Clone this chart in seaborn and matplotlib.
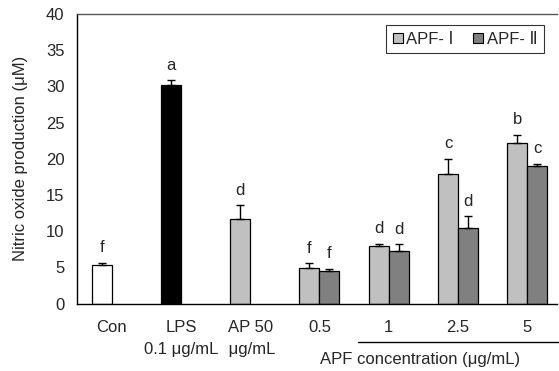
import matplotlib
matplotlib.use("Agg")
import matplotlib.pyplot as plt
import seaborn as sns
import pandas as pd
import numpy as np
from matplotlib.patches import Patch
from matplotlib.lines import Line2D
import matplotlib.transforms as mtrans

groups = ["Con", "LPS\n0.1 μg/mL", "AP 50\n μg/mL", "0.5", "1", "2.5", "5"]
series = ["APF-Ⅰ", "APF-Ⅱ"]
# value, error, letter for left-position bars (APF-I slot; first three are single bars)
vals_1 = [5.4, 30.2, 11.7, 4.9, 7.95, 17.95, 22.2]
errs_1 = [0.25, 0.65, 1.9, 0.7, 0.35, 2.05, 1.15]
letters_1 = ["f", "a", "d", "f", "d", "c", "b"]
# right-position bars (APF-II)
groups_2 = ["0.5", "1", "2.5", "5"]
vals_2 = [4.45, 7.3, 10.45, 19.05]
errs_2 = [0.4, 0.9, 1.6, 0.3]
letters_2 = ["f", "d", "d", "c"]
legend_labels = ["APF- Ⅰ", "APF- Ⅱ"]

single_colors = {"Con": "white", "LPS\n0.1 μg/mL": "black"}
c1, c2 = "#C0C0C0", "#808080"

df = pd.DataFrame({
    "group": groups + groups_2,
    "series": [series[0]] * len(groups) + [series[1]] * len(groups_2),
    "value": vals_1 + vals_2,
})

sns.set_style("white")
plt.rcParams["font.family"] = ["Liberation Sans", "DejaVu Sans"]
plt.rcParams["font.size"] = 12

FS = 12
fig = plt.figure(figsize=(5.59, 3.71), dpi=100)
ax = fig.add_axes([77 / 559, 1 - 303.7 / 371, 480 / 559, (303.7 - 14) / 371])

width = 0.577
sns.barplot(data=df, x="group", y="value", hue="series", order=groups,
            hue_order=series, palette={series[0]: c1, series[1]: c2},
            width=width, dodge=True, errorbar=None, legend=False,
            edgecolor="black", linewidth=0.9, ax=ax, saturation=1)

off = width / 4
# recolor single bars
for p in ax.patches:
    cx = p.get_x() + p.get_width() / 2
    idx = int(round(cx + off))
    if p.get_facecolor()[:3] == matplotlib.colors.to_rgb(c1) and groups[idx] in single_colors:
        p.set_facecolor(single_colors[groups[idx]])

x1 = np.arange(len(groups)) - off
x2 = np.array([groups.index(g) for g in groups_2]) + off
for xs, vs, es, ls in [(x1, vals_1, errs_1, letters_1), (x2, vals_2, errs_2, letters_2)]:
    vs = np.array(vs); es = np.array(es)
    ax.errorbar(xs, vs, yerr=[np.zeros_like(es), es], fmt="none", ecolor="black",
                elinewidth=1, capsize=3, capthick=1)
    for x, v, e, l in zip(xs, vs, es, ls):
        ax.text(x, v + e + 1.45, l, ha="center", va="baseline", fontsize=FS)

ax.set_ylim(0, 40)
ax.set_xlim(-0.5, 6.43)
ax.set_yticks(range(0, 41, 5))
ax.set_xticks(np.arange(-0.5, 6.0, 1.0))
ax.set_xticklabels([])
ax.set_xticks(np.arange(len(groups)), minor=True)
ax.set_xticklabels(groups, minor=True, linespacing=1.55)
ax.tick_params(axis="x", which="minor", length=0, pad=12, labelsize=FS)
ax.tick_params(axis="x", which="major", direction="out", length=5, width=1, color="black")
ax.tick_params(axis="y", direction="out", length=5, width=1, color="black", pad=4, labelsize=FS)
ax.set_xlabel("")
ax.set_ylabel("Nitric oxide production (μM)", fontsize=FS, labelpad=13)

for s in ["left", "bottom"]:
    ax.spines[s].set_color("black")
    ax.spines[s].set_linewidth(1)
ax.spines["right"].set_visible(False)
ax.spines["top"].set_color("#555555")
ax.spines["top"].set_linewidth(1)

# bracket line and group label for APF concentrations
tr = mtrans.blended_transform_factory(ax.transData, ax.transAxes)
ax.add_line(Line2D([3.56, 6.6], [-0.131, -0.131], transform=tr, color="black",
                   lw=1, clip_on=False))
ax.text(4.45, -0.194, "APF concentration (μg/mL)", transform=tr, ha="center",
        va="center", fontsize=FS)

handles = [Patch(facecolor=c1, edgecolor="black", linewidth=0.8),
           Patch(facecolor=c2, edgecolor="black", linewidth=0.8)]
leg = ax.legend(handles, legend_labels, ncol=2, loc="upper right",
                bbox_to_anchor=(0.973, 0.962), borderaxespad=0, frameon=True,
                fancybox=False, edgecolor="black", handlelength=0.6,
                handleheight=0.6, handletextpad=0.2, columnspacing=1.2,
                borderpad=0.4, fontsize=FS)
leg.get_frame().set_linewidth(0.8)

fig.savefig("out.png", dpi=100)
